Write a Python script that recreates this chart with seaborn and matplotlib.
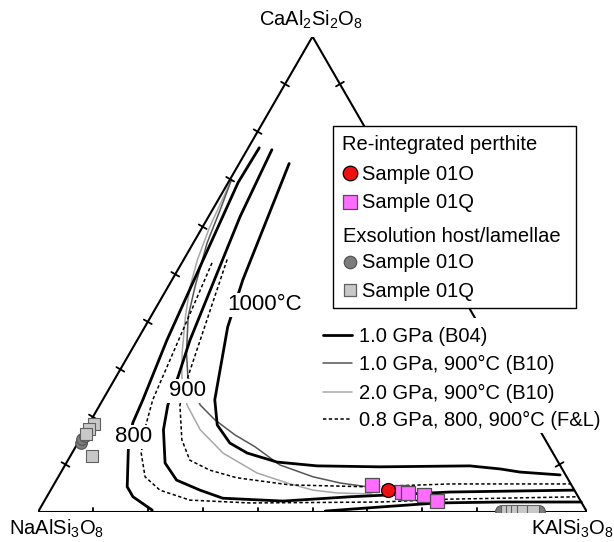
import numpy as np
import pandas as pd
import matplotlib
matplotlib.use("Agg")
import matplotlib.pyplot as plt
import seaborn as sns
from matplotlib.patches import Rectangle

sns.set_theme(style="white")
plt.rcParams['font.family'] = ['Liberation Sans', 'DejaVu Sans']
plt.rcParams['mathtext.fontset'] = 'custom'
plt.rcParams['mathtext.rm'] = 'Liberation Sans'
plt.rcParams['mathtext.it'] = 'Liberation Sans'
plt.rcParams['text.color'] = 'black'

# ---------------- data (mol %) ----------------
# Benisek et al. 2004 (B04) 1.0 GPa isotherms
b04_800_plag_an = [76.6, 69.3, 36.2, 23.6, 18.7, 13.1, 5.3, 3.2, 0.4]
b04_800_plag_or = [2.0, 1.8, 5.4, 7.3, 7.9, 9.9, 13.6, 15.7, 20.6]
b04_800_kfs_an = [0.2, 1.05, 1.9, 2.1, 2.1]
b04_800_kfs_or = [52.2, 61.8, 71.7, 83.1, 97.9]
b04_900_an = [76.2, 62.1, 36.2, 28.4, 22.5, 17.3, 10.3, 6.7, 4.6, 2.9, 2.3, 3.2, 4.2, 4.6]
b04_900_or = [4.5, 5.75, 9.6, 11.3, 12.4, 14.2, 18.0, 21.9, 27.2, 32.2, 43.5, 55.2, 72.9, 95.3]
b04_1000_an = [73.3, 48.8, 38.9, 23.6, 18.3, 14.5, 12.4, 10.5, 9.7, 9.5, 9.7, 9.05, 8.4, 7.8]
b04_1000_or = [9.1, 12.9, 15.1, 20.4, 23.5, 27.7, 31.9, 38.3, 46.0, 57.5, 73.8, 79.7, 83.6, 91.2]
# Fuhrman & Lindsley (F&L) 0.8 GPa
fl_800_an = [52.4, 23.6, 18.3, 12.4, 7.4, 4.6, 2.5, 1.9, 2.1, 2.7, 3.2]
fl_800_or = [5.5, 9.1, 10.5, 12.6, 15.8, 19.9, 26.4, 37.7, 61.2, 73.7, 96.6]
fl_900_an = [53.1, 28.4, 22.5, 15.2, 10.9, 8.8, 7.2, 5.7, 5.3, 5.9, 5.9]
fl_900_or = [7.9, 13.1, 14.6, 18.6, 22.2, 26.9, 32.6, 43.0, 57.3, 72.1, 94.0]
# Benisek et al. 2010 (B10) 900 C
b10_1gpa_an = [69.9, 63.6, 56.6, 47.4, 41.1, 33.5, 28.4, 22.5, 19.4, 16.2, 13.7, 9.9, 7.4, 6.1, 5.3]
b10_1gpa_or = [0.3, 1.4, 2.5, 4.9, 6.8, 10.3, 13.1, 18.3, 22.5, 27.8, 32.7, 39.1, 46.4, 52.0, 57.3]
b10_2gpa_an = [69.9, 60.0, 53.1, 47.4, 41.1, 33.5, 28.4, 22.5, 17.3, 12.4, 8.2, 5.9, 4.6, 4.0, 3.8]
b10_2gpa_or = [0.3, 1.3, 2.5, 4.0, 6.3, 9.5, 12.0, 15.9, 20.9, 27.5, 35.8, 43.0, 47.8, 52.5, 58.9]

# samples
reint_01o_an = [4.6]
reint_01o_or = [61.4]
reint_01q_an = [5.7, 4.2, 4.0, 3.6, 2.3]
reint_01q_or = [58.0, 64.2, 65.4, 68.5, 71.5]
exs_01o_an = [14.5, 15.4, 16.0, 0.2, 0.2]
exs_01o_or = [0.5, 0.4, 0.5, 84.2, 91.1]
exs_01q_an = [18.5, 17.5, 16.4, 11.8, 0.2, 0.2, 0.2, 0.2, 0.2]
exs_01q_or = [0.9, 0.6, 0.5, 3.9, 85.4, 86.3, 87.2, 88.2, 90.0]

corner_labels = [r"NaAlSi$_3$O$_8$", r"KAlSi$_3$O$_8$", r"CaAl$_2$Si$_2$O$_8$"]
iso_labels = ["800", "900", "1000°C"]
legend1_titles = ["Re-integrated perthite", "Exsolution host/lamellae"]
legend1_items = ["Sample 01O", "Sample 01Q", "Sample 01O", "Sample 01Q"]
legend2_items = ["1.0 GPa (B04)", "1.0 GPa, 900°C (B10)", "2.0 GPa, 900°C (B10)",
                 "0.8 GPa, 800, 900°C (F&L)"]

S3 = np.sqrt(3) / 2


def tern(an, orr):
    an = np.asarray(an, float) / 100.0
    orr = np.asarray(orr, float) / 100.0
    return pd.DataFrame({"x": orr + an / 2.0, "y": an * S3})


# ---------------- figure ----------------
W, H = 614, 542
fig = plt.figure(figsize=(W / 100, H / 100), dpi=100)
ax = fig.add_axes([38 / W, 30 / H, 549 / W, 475 / H])
ax.set_xlim(0, 1)
ax.set_ylim(0, 475 / 549)
ax.axis("off")


def P(px, py):
    return ((px - 38) / 549.0, (512 - py) / 549.0)


# triangle
tri = np.array([[0, 0], [1, 0], [0.5, S3], [0, 0]])
ax.plot(tri[:, 0], tri[:, 1], color="black", lw=1.5, zorder=3, solid_joinstyle="miter")
tl = 4.5 / 549
for k in range(1, 10):
    f = k / 10
    for (px, py), (nx, ny) in [((f, 0), (0, 1)),
                               ((0.5 * f, S3 * f), (S3, -0.5)),
                               ((1 - 0.5 * f, S3 * f), (S3, 0.5))]:
        ax.plot([px - nx * tl, px + nx * tl], [py - ny * tl, py + ny * tl],
                color="black", lw=1.3, zorder=3)

# curves
thick = dict(color="black", lw=2.0, zorder=2)
dot = dict(color="black", lw=1.1, linestyle=(0, (2.2, 1.6)), zorder=2)
for an, orr, kw in [
    (b10_2gpa_an, b10_2gpa_or, dict(color="#a8a8a8", lw=1.1, zorder=2)),
    (b10_1gpa_an, b10_1gpa_or, dict(color="#555555", lw=1.1, zorder=2)),
    (fl_800_an, fl_800_or, dot),
    (fl_900_an, fl_900_or, dot),
    (b04_800_plag_an, b04_800_plag_or, thick),
    (b04_800_kfs_an, b04_800_kfs_or, thick),
    (b04_900_an, b04_900_or, thick),
    (b04_1000_an, b04_1000_or, thick),
]:
    sns.lineplot(data=tern(an, orr), x="x", y="y", sort=False, estimator=None,
                 legend=False, ax=ax, **kw)

# sample points
sns.scatterplot(data=tern(exs_01o_an, exs_01o_or), x="x", y="y", marker="o", s=70,
                color="#7c7c7c", edgecolor="#555555", linewidth=0.8, ax=ax, zorder=4, legend=False)
sns.scatterplot(data=tern(exs_01q_an, exs_01q_or), x="x", y="y", marker="s", s=70,
                color="#c8c8c8", edgecolor="#606060", linewidth=0.8, ax=ax, zorder=4, legend=False)
sns.scatterplot(data=tern(reint_01q_an, reint_01q_or), x="x", y="y", marker="s", s=95,
                color="#ff6cff", edgecolor="#505050", linewidth=0.9, ax=ax, zorder=5, legend=False)
sns.scatterplot(data=tern(reint_01o_an, reint_01o_or), x="x", y="y", marker="o", s=100,
                color="#f01010", edgecolor="black", linewidth=0.9, ax=ax, zorder=5, legend=False)

# isotherm labels
for lab, (px, py) in zip(iso_labels, [(134, 437), (187, 391), (265, 305)]):
    ax.text(*P(px, py), lab, fontsize=16, ha="center", va="center", zorder=6,
            bbox=dict(facecolor="white", edgecolor="none", pad=1.0))

# corner labels
for lab, (px, py) in zip(corner_labels, [(57, 529), (572, 529), (311, 20)]):
    ax.text(*P(px, py), lab, fontsize=14.5, ha="center", va="center", zorder=6)

# legend 1 (framed)
x0, y0 = P(333, 308)
x1, y1 = P(576, 126)
ax.add_patch(Rectangle((x0, y0), x1 - x0, y1 - y0, facecolor="white",
                       edgecolor="black", lw=1.0, zorder=7))
ax.text(*P(342, 150.5), legend1_titles[0], fontsize=14.5, va="baseline", zorder=8)
ax.text(*P(343, 241.5), legend1_titles[1], fontsize=14.5, va="baseline", zorder=8)
handles = [("o", 110, "#f01010", "black", 173), ("s", 110, "#ff6cff", "#505050", 201.5),
           ("o", 80, "#7c7c7c", "#555555", 261.5), ("s", 75, "#c8c8c8", "#606060", 290)]
for (mk, s, fc, ec, py), lab in zip(handles, legend1_items):
    ax.scatter(*P(350, py), marker=mk, s=s, facecolor=fc, edgecolor=ec, lw=0.9, zorder=8)
    ax.text(*P(362.5, py + 7), lab, fontsize=14.5, va="baseline", zorder=8)

# legend 2 (lines, white background)
x0, y0 = P(314, 433)
x1, y1 = P(612, 318)
ax.add_patch(Rectangle((x0, y0), x1 - x0, y1 - y0, facecolor="white",
                       edgecolor="none", zorder=7))
styles = [dict(color="black", lw=2.0), dict(color="#555555", lw=1.1),
          dict(color="#a8a8a8", lw=1.1), dict(color="black", lw=1.1, linestyle=(0, (2.2, 1.6)))]
for st, lab, py in zip(styles, legend2_items, [335, 363.3, 391.7, 418.5]):
    xa, ya = P(323, py)
    xb, _ = P(352, py)
    ax.plot([xa, xb], [ya, ya], zorder=8, **st)
    ax.text(*P(359.5, py + 7), lab, fontsize=14.5, va="baseline", zorder=8)

fig.savefig("out.png", dpi=100)
